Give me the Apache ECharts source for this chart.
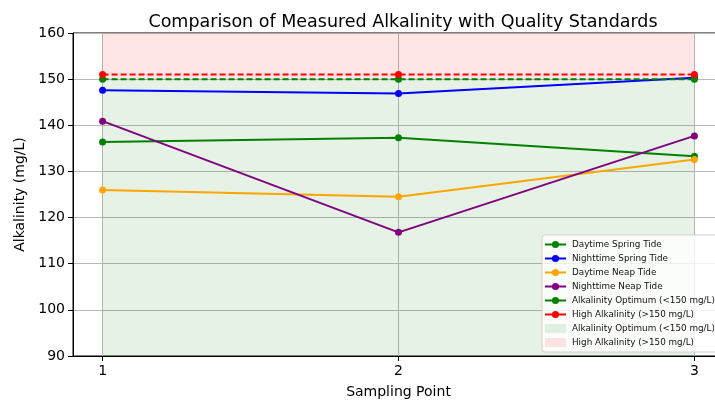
<!DOCTYPE html>
<html>
<head>
<meta charset="utf-8">
<script src="https://cdn.jsdelivr.net/npm/echarts@6/dist/echarts.min.js"></script>
<style>
  html, body { margin: 0; padding: 0; background: #ffffff; }
  #chart { width: 715px; height: 402px; }
</style>
</head>
<body>
<div id="chart"></div>
<script>
// Sampling points along the x axis
const samplingPoints = [1, 2, 3];

// Measured alkalinity (mg/L) per sampling point
const daytimeSpring   = [136.4, 137.3, 133.3];
const nighttimeSpring = [147.6, 146.9, 150.3];
const daytimeNeap     = [126.0, 124.5, 132.6];
const nighttimeNeap   = [140.9, 116.8, 137.7];

// Reference thresholds (mg/L)
const optimumLine = [150, 150, 150];
const highLine    = [151, 151, 151];

// Shaded quality bands (mg/L)
const optimumBand = [90, 150];
const highBand    = [150, 160];

// Axis ticks
const xTicks = [1, 2, 3];
const yMin = 90, yMax = 160, yStep = 10;

const FONT = 'DejaVu Sans';

function pairs(values) {
  return samplingPoints.map((x, i) => [x, values[i]]);
}

function lineSeries(name, values, color, dashed) {
  return {
    name: name,
    type: 'line',
    data: pairs(values),
    symbol: 'circle',
    symbolSize: 7,
    z: 3,
    itemStyle: { color: color },
    lineStyle: { color: color, width: 2, type: dashed ? [6, 3] : 'solid' },
    emphasis: { disabled: true },
    animation: false
  };
}

function bandSeries(name, band, fill) {
  return {
    name: name,
    type: 'bar',
    data: [],
    itemStyle: { color: fill },
    z: 1,
    markArea: {
      silent: true,
      itemStyle: { color: fill },
      data: [[
        { coord: [samplingPoints[0], band[0]] },
        { coord: [samplingPoints[samplingPoints.length - 1], band[1]] }
      ]]
    },
    animation: false
  };
}

const chart = echarts.init(document.getElementById('chart'), null, { renderer: 'canvas' });

const lineNames = [
  'Daytime Spring Tide',
  'Nighttime Spring Tide',
  'Daytime Neap Tide',
  'Nighttime Neap Tide',
  'Alkalinity Optimum (<150 mg/L)',
  'High Alkalinity (>150 mg/L)'
];
// Band entries share their wording with the threshold lines; a trailing space keeps the legend keys distinct
const bandNames = ['Alkalinity Optimum (<150 mg/L) ', 'High Alkalinity (>150 mg/L) '];

const option = {
  backgroundColor: '#ffffff',
  animation: false,
  textStyle: { fontFamily: FONT },
  title: {
    text: 'Comparison of Measured Alkalinity with Quality Standards',
    left: 398,
    top: 8,
    textAlign: 'center',
    textStyle: { fontFamily: FONT, fontSize: 17.5, fontWeight: 'normal', color: '#000' }
  },
  grid: {
    left: 73,
    top: 33,
    width: 651,
    height: 323,
    outerBoundsMode: 'none',
    containLabel: false,
    show: true,
    borderColor: '#000',
    borderWidth: 1,
    backgroundColor: 'transparent'
  },
  xAxis: {
    type: 'value',
    min: 0.9,
    max: 3.1,
    name: 'Sampling Point',
    nameLocation: 'middle',
    nameGap: 29,
    nameTextStyle: { fontFamily: FONT, fontSize: 14, color: '#000' },
    axisLine: { show: true, onZero: false, lineStyle: { color: '#000', width: 1 } },
    axisTick: { show: true, length: 5, customValues: xTicks, lineStyle: { color: '#000' } },
    axisLabel: { customValues: xTicks, fontFamily: FONT, fontSize: 14, color: '#000', margin: 8 },
    splitLine: { show: true, lineStyle: { color: '#b8b8b8', width: 1 } }
  },
  yAxis: {
    type: 'value',
    min: yMin,
    max: yMax,
    interval: yStep,
    name: 'Alkalinity (mg/L)',
    nameLocation: 'middle',
    nameGap: 44,
    nameTextStyle: { fontFamily: FONT, fontSize: 14, color: '#000' },
    axisLine: { show: true, lineStyle: { color: '#000', width: 1 } },
    axisTick: { show: true, length: 5, lineStyle: { color: '#000' } },
    axisLabel: { fontFamily: FONT, fontSize: 14, color: '#000', margin: 8 },
    splitLine: { show: true, lineStyle: { color: '#b8b8b8', width: 1 } }
  },
  legend: {
    orient: 'vertical',
    left: 542,
    top: 235,
    padding: [5, 6, 5, 2],
    itemGap: 5,
    itemWidth: 21,
    itemHeight: 9,
    backgroundColor: 'rgba(255,255,255,0.8)',
    borderColor: '#d0d0d0',
    borderWidth: 1,
    borderRadius: 3,
    textStyle: { fontFamily: FONT, fontSize: 8.8, color: '#111', lineHeight: 9, padding: [0, 0, 0, 1] },
    data: lineNames.map(n => ({ name: n, lineStyle: { type: 'solid' } })).concat(
      bandNames.map(n => ({ name: n, icon: 'rect' }))
    )
  },
  series: [
    bandSeries(bandNames[0], optimumBand, 'rgba(0,128,0,0.1)'),
    bandSeries(bandNames[1], highBand, 'rgba(255,0,0,0.1)'),
    lineSeries(lineNames[0], daytimeSpring, '#008000', false),
    lineSeries(lineNames[1], nighttimeSpring, '#0000ff', false),
    lineSeries(lineNames[2], daytimeNeap, '#ffa500', false),
    lineSeries(lineNames[3], nighttimeNeap, '#800080', false),
    lineSeries(lineNames[4], optimumLine, '#008000', true),
    lineSeries(lineNames[5], highLine, '#ff0000', true)
  ]
};

chart.setOption(option);
</script>
</body>
</html>
